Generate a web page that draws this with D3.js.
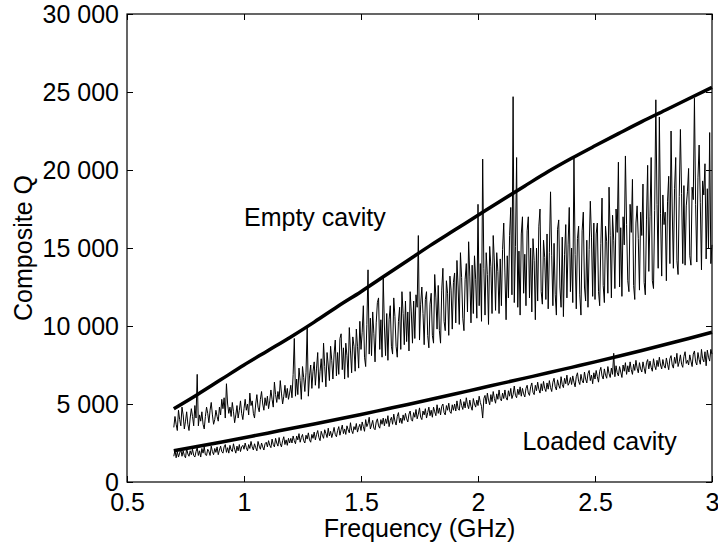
<!DOCTYPE html>
<html>
<head>
<meta charset="utf-8">
<script src="https://cdnjs.cloudflare.com/ajax/libs/d3/7.8.5/d3.min.js"></script>
<style>
  html, body { margin: 0; padding: 0; background: #fff; }
  svg { display: block; font-family: "Liberation Sans", Arial, Helvetica, sans-serif; }
  .axis text { font-size: 25px; fill: #000; }
  .axis line { stroke: #000; stroke-width: 1; }
  .label { font-size: 25px; fill: #000; }
</style>
</head>
<body>
<svg id="chart" width="718" height="545"></svg>
<script>
// Tick values and labels
const xTicks = [0.5, 1, 1.5, 2, 2.5, 3];
const xTickLabels = ["0.5", "1", "1.5", "2", "2.5", "3"];
const yTicks = [0, 5000, 10000, 15000, 20000, 25000, 30000];
const yTickLabels = ["0", "5 000", "10 000", "15 000", "20 000", "25 000", "30 000"];

// Smooth upper-bound curves (GHz, Q)
const boundFreq = [0.7, 0.8, 0.9, 1.0, 1.1, 1.2, 1.3, 1.4, 1.5, 1.6, 1.7, 1.8,
  1.9, 2.0, 2.1, 2.2, 2.3, 2.4, 2.5, 2.6, 2.7, 2.8, 2.9, 3.0];
const emptyBound = [4700, 5600, 6550, 7500, 8400, 9300, 10250, 11250, 12200, 13200, 14200, 15200,
  16150, 17100, 18050, 18980, 19900, 20750, 21550, 22330, 23100, 23830, 24570, 25300];
const loadedBound = [2000, 2270, 2550, 2840, 3130, 3430, 3720, 4020, 4330, 4650, 4970, 5300,
  5640, 5980, 6320, 6660, 7000, 7350, 7700, 8060, 8430, 8810, 9200, 9600];

// Measured composite Q, sampled every 5 MHz from 0.70 to 3.00 GHz (one row = 0.1 GHz)
const sweepStart = 0.70;
const sweepStep = 0.005;
const emptyQ = [
  3500, 4200, 3700, 3300, 4600, 4000, 3600, 4800, 4300, 3400, 3900, 4500, 3700, 3300, 4100, 4700, 4200, 3600, 4900, 4100,
  6900, 3600, 4300, 3900, 4500, 3700, 3400, 4200, 4800, 4400, 3800, 4600, 5100, 4300, 3700, 4000, 4600, 4200, 3900, 4800,
  4300, 5300, 4700, 5400, 4100, 6300, 5000, 4400, 4800, 4200, 5100, 4500, 3800, 4300, 4900, 4100, 4600, 5200, 4400, 4000,
  4700, 5300, 4600, 5000, 4300, 5700, 4900, 5200, 4400, 4100, 5000, 5600, 4800, 4500, 5300, 5800, 5000, 4600, 5400, 4900,
  5500, 4700, 5200, 5900, 5300, 4800, 6400, 5600, 5100, 5800, 5300, 6500, 5700, 5000, 5500, 6200, 5400, 6000, 5300, 5700,
  6200, 5400, 6900, 9200, 5500, 6600, 5600, 7300, 6500, 5300, 7400, 6700, 5800, 7000, 9900, 5500, 6800, 7500, 6000, 7100,
  7700, 6200, 7300, 8300, 6000, 7100, 7900, 6400, 8900, 7400, 6100, 8300, 7500, 6500, 8700, 7800, 6600, 8200, 9100, 6800,
  8300, 6900, 9200, 9500, 7200, 8600, 6600, 8900, 8100, 6700, 9900, 8400, 7000, 9300, 8700, 7100, 9800, 8700, 7300, 10300,
  8500, 9600, 11300, 8000, 7400, 10100, 13600, 8200, 10500, 8100, 10900, 9500, 7700, 10200, 11500, 11800, 8500, 10400, 8000, 13100,
  10000, 8100, 10800, 7800, 10400, 11300, 8700, 8200, 11800, 10600, 8700, 8000, 10300, 11200, 8500, 12200, 10800, 8800, 11600, 9000,
  10900, 8400, 12200, 10900, 8900, 11600, 9200, 12000, 11200, 15800, 9100, 11400, 12500, 10800, 8800, 11700, 12200, 9400, 8600, 11400,
  12100, 9400, 8900, 13300, 11800, 9800, 12600, 9700, 8900, 12300, 13700, 10300, 9700, 12900, 12100, 9400, 13200, 12300, 9800, 12800,
  13400, 10200, 14200, 12500, 10100, 14700, 13100, 10500, 9700, 13000, 14000, 10900, 15400, 13200, 10200, 13900, 10800, 14500, 13000, 10500,
  17800, 11300, 14000, 10300, 20700, 13700, 10700, 14700, 13300, 10100, 15100, 13800, 10800, 15800, 14100, 11000, 14700, 13500, 10800, 14300,
  11300, 14900, 16600, 13400, 10400, 14500, 11800, 15800, 17600, 12000, 24700, 11500, 15100, 20800, 11200, 14800, 10700, 15900, 17000, 12100,
  14600, 11300, 16100, 17000, 11800, 15000, 10900, 15600, 14200, 10400, 15000, 11600, 16400, 17500, 12200, 11400, 15500, 14400, 11700, 15900,
  11100, 14700, 18600, 14500, 11300, 15300, 12000, 10700, 16200, 16800, 12500, 11200, 15700, 10600, 14600, 16500, 11800, 15200, 17600, 12200,
  15000, 11500, 20800, 14600, 11100, 15600, 16400, 12000, 10700, 16100, 17300, 12500, 11600, 15500, 11200, 14900, 18000, 15700, 11900, 16600,
  11700, 15900, 16600, 12200, 11300, 15300, 18200, 12600, 11500, 16400, 15400, 12100, 18900, 15800, 11800, 17100, 15500, 12400, 17500, 16000,
  20500, 12500, 16300, 11900, 17000, 15200, 20900, 16500, 12900, 12200, 17800, 16000, 19400, 12600, 11700, 16600, 17700, 15600, 12300, 17300,
  15800, 19100, 12800, 12000, 16800, 20300, 13500, 17000, 20800, 12900, 12400, 17400, 24500, 17800, 13700, 23400, 17200, 13200, 18400, 16500,
  17300, 12900, 18000, 19600, 14000, 22500, 17500, 13700, 18800, 20800, 14200, 13300, 18300, 22600, 18500, 14000, 19000, 13900, 17700, 18600,
  20100, 14500, 13900, 18900, 18100, 24600, 17800, 14100, 19500, 21600, 17900, 13600, 19300, 18400, 20400, 14300, 18800, 15000, 22400, 14000,
  15200
];
const loadedQ = [
  1650, 2050, 1550, 1950, 1600, 1850, 2100, 1650, 2000, 1700, 1550, 2150, 1800, 1650, 2000, 1750, 2100, 1700, 1600, 1950,
  2200, 1700, 2000, 1600, 2150, 1850, 2250, 1750, 1700, 2100, 1950, 1700, 2300, 1950, 1750, 2150, 1900, 2250, 1750, 2050,
  2300, 1950, 1850, 2250, 2400, 1900, 2200, 1850, 2350, 2050, 1950, 2450, 2100, 1850, 2300, 2000, 2400, 1950, 2250, 2350,
  2100, 2500, 2200, 2000, 2400, 2150, 2600, 2250, 2050, 2450, 2200, 2000, 2600, 2300, 2100, 2500, 2250, 2050, 2450, 2550,
  2250, 2650, 2350, 2200, 2750, 2400, 2250, 2800, 2500, 2300, 2850, 2450, 2250, 2650, 2900, 2400, 2700, 2350, 2800, 2500,
  2800, 2500, 2950, 2650, 2450, 2950, 2700, 3100, 2550, 2850, 3050, 2650, 2500, 3000, 2750, 3150, 2700, 2550, 3050, 2800,
  3200, 2700, 3050, 3300, 2850, 2650, 3250, 3000, 2800, 3350, 3100, 2850, 3450, 2950, 3250, 2850, 3150, 3500, 3050, 2900,
  3300, 3550, 3000, 3350, 3650, 3100, 3400, 3050, 3600, 3350, 3150, 3800, 3300, 3100, 3550, 3350, 3750, 3200, 3500, 3700,
  3300, 3850, 3550, 3250, 4000, 3550, 3750, 4150, 3400, 3650, 3950, 3450, 3350, 3850, 4050, 3600, 3450, 4000, 3700, 4100,
  3600, 4050, 3750, 4250, 3550, 3950, 4150, 3700, 4350, 3900, 3650, 4200, 4450, 3800, 4100, 3750, 4300, 3950, 4400, 4050,
  3850, 4350, 4550, 4000, 3900, 4450, 4150, 4650, 4050, 4350, 4750, 4150, 4000, 4550, 4300, 4700, 4100, 4450, 4800, 4250,
  4600, 4150, 4800, 4500, 4250, 4950, 4400, 4750, 4300, 4850, 5000, 4450, 4300, 4900, 4600, 5050, 4500, 4400, 4950, 4600,
  5000, 4550, 5200, 4700, 4600, 5300, 4900, 4650, 5150, 4750, 5400, 4950, 4700, 5250, 4850, 4600, 5350, 5000, 4800, 5250,
  4900, 5500, 5100, 4850, 4100, 5350, 5550, 5000, 5700, 5250, 4950, 5600, 5150, 5800, 5350, 5050, 5650, 5300, 5900, 5350,
  5200, 5700, 5350, 5900, 5400, 5250, 5850, 5500, 6000, 5350, 5600, 6150, 5550, 5400, 5950, 5600, 6100, 5500, 6000, 5650,
  5450, 6000, 6200, 5700, 5550, 6100, 6350, 5750, 5600, 6200, 5850, 6400, 5950, 5700, 6300, 5850, 6450, 6000, 5800, 6350,
  5950, 6500, 6050, 5800, 6400, 6650, 6100, 5900, 6550, 6200, 6000, 6750, 6250, 6050, 6650, 6300, 6850, 6200, 6350, 6700,
  6250, 6800, 6400, 6100, 6750, 7000, 6450, 6250, 6900, 6500, 6350, 7050, 6600, 6350, 6950, 7150, 6500, 6850, 6300, 7000,
  6600, 7150, 6750, 6400, 7100, 7350, 6800, 6600, 7250, 6850, 6650, 7400, 6950, 6700, 7300, 6900, 8250, 6750, 7450, 7000,
  6800, 7400, 7050, 6700, 7500, 7100, 7650, 6900, 7450, 7050, 7700, 7200, 6900, 7550, 7150, 7800, 7300, 7000, 7650, 7250,
  7050, 7700, 7300, 6950, 7650, 7850, 7250, 7750, 7350, 7100, 7900, 7450, 7200, 7800, 7400, 8000, 7500, 7250, 7850, 7450,
  7300, 7950, 7550, 7200, 7900, 8100, 7500, 7300, 8000, 7600, 8250, 7400, 7700, 8150, 7550, 7350, 8050, 8350, 7600, 7800,
  7500, 8150, 7750, 7400, 8200, 8400, 7700, 7500, 8300, 7850, 7550, 8500, 7900, 7700, 8350, 7450, 8450, 8000, 7750, 8500,
  8200
];

// Text annotations, anchored in data units
const emptyNote = { text: "Empty cavity", f: 1.0, q: 16400 };
const loadedNote = { text: "Loaded cavity", f: 2.19, q: 2050 };

const margin = { top: 14, right: 6, bottom: 63, left: 127 };
const width = 718, height = 545;
const innerW = width - margin.left - margin.right;
const innerH = height - margin.top - margin.bottom;

const svg = d3.select("#chart");
const g = svg.append("g").attr("transform", `translate(${margin.left},${margin.top})`);

const x = d3.scaleLinear().domain([0.5, 3]).range([0, innerW]);
const y = d3.scaleLinear().domain([0, 30000]).range([innerH, 0]);

// Axes with inward ticks on all four sides
g.append("g").attr("class", "axis")
  .attr("transform", `translate(0,${innerH})`)
  .call(d3.axisBottom(x).tickValues(xTicks).tickSizeInner(-6).tickSizeOuter(0).tickPadding(11)
    .tickFormat((d, i) => xTickLabels[i]));
g.append("g").attr("class", "axis")
  .call(d3.axisTop(x).tickValues(xTicks).tickSizeInner(-6).tickSizeOuter(0).tickFormat(""));
g.append("g").attr("class", "axis")
  .call(d3.axisLeft(y).tickValues(yTicks).tickSizeInner(-6).tickSizeOuter(0).tickPadding(8)
    .tickFormat((d, i) => yTickLabels[i]));
g.append("g").attr("class", "axis")
  .attr("transform", `translate(${innerW},0)`)
  .call(d3.axisRight(y).tickValues(yTicks).tickSizeInner(-6).tickSizeOuter(0).tickFormat(""));
g.selectAll(".axis .domain").remove();

g.append("rect")
  .attr("width", innerW).attr("height", innerH)
  .attr("fill", "none").attr("stroke", "#000").attr("stroke-width", 1.2);

// Measured traces
const sweepLine = d3.line()
  .x((d, i) => x(sweepStart + i * sweepStep))
  .y(d => y(d));

g.append("path").datum(emptyQ)
  .attr("d", sweepLine)
  .attr("fill", "none").attr("stroke", "#000").attr("stroke-width", 1)
  .attr("stroke-linejoin", "round");
g.append("path").datum(loadedQ)
  .attr("d", sweepLine)
  .attr("fill", "none").attr("stroke", "#000").attr("stroke-width", 1)
  .attr("stroke-linejoin", "round");

// Bound curves
const boundLine = d3.line()
  .x((d, i) => x(boundFreq[i]))
  .y(d => y(d))
  .curve(d3.curveMonotoneX);

[emptyBound, loadedBound].forEach(series => {
  g.append("path").datum(series)
    .attr("d", boundLine)
    .attr("fill", "none").attr("stroke", "#000").attr("stroke-width", 3.5);
});

// Annotations
[emptyNote, loadedNote].forEach(n => {
  g.append("text").attr("class", "label")
    .attr("x", x(n.f)).attr("y", y(n.q))
    .text(n.text);
});

// Axis titles
svg.append("text").attr("class", "label")
  .attr("x", margin.left + innerW / 2).attr("y", 537)
  .attr("text-anchor", "middle")
  .text("Frequency (GHz)");
svg.append("text").attr("class", "label")
  .attr("transform", `translate(32,${margin.top + innerH / 2}) rotate(-90)`)
  .attr("text-anchor", "middle")
  .text("Composite Q");
</script>
</body>
</html>
